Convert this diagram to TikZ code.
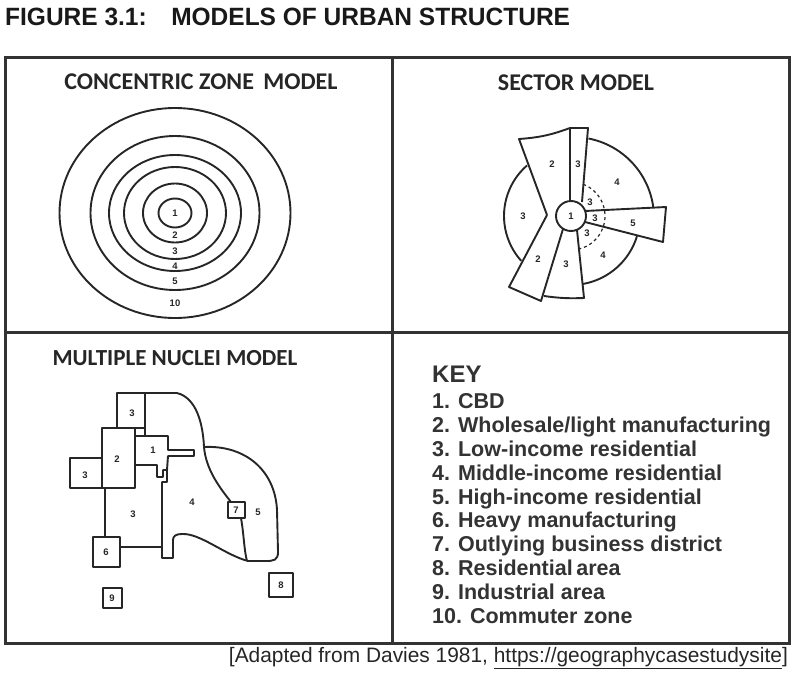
\documentclass[tikz,border=0pt]{standalone}
\usepackage{fontspec}
\setmainfont{Liberation Sans}
\newfontfamily\headfont{Carlito}
\begin{document}
\begin{tikzpicture}[x=1pt,y=-1pt,
  frame/.style={line width=3pt, black!80},
  zone/.style={line width=1.9pt, black!85, line join=round},
  num/.style={font=\bfseries\fontsize{9.5}{9.5}\selectfont, inner sep=0pt, black!85},
  heading/.style={font=\headfont\bfseries\fontsize{24}{24}\selectfont, black!85},
  keyline/.style={font=\bfseries\fontsize{21.5}{21.5}\selectfont, anchor=base west, inner sep=0pt, black!80}]
\useasboundingbox (0,0) rectangle (799,677);
% Title
\node[anchor=west, inner sep=0pt, font=\bfseries\fontsize{25}{25}\selectfont, black!90] (title) at (5,17)
  {\scalebox{0.98}[1]{FIGURE 3.1:\hspace{1em}MODELS OF URBAN STRUCTURE}};
% Frame and panels
\draw[frame] (5,57) rectangle (789,643);
\draw[frame] (392,57) -- (392,643);
\draw[frame] (5,332) -- (789,332);
% Headings
\node[heading] (hconc) at (201,82) {CONCENTRIC ZONE\, MODEL};
\node[heading] (hsect) at (576,83) {SECTOR MODEL};
\node[heading, font=\headfont\bfseries\fontsize{23}{23}\selectfont] (hnucl) at (175,358) {MULTIPLE NUCLEI MODEL};
% Concentric zone model
\foreach \rx/\ry in {115.5/105, 84.5/77, 66/58, 51/46, 32/29.5, 16.5/14.5}
  \draw[zone] (175,213) ellipse [x radius=\rx, y radius=\ry];
\node[num] (c1) at (175,213) {1};
\node[num] (c2) at (175,235) {2};
\node[num] (c3) at (175,251) {3};
\node[num] (c4) at (175,266) {4};
\node[num] (c5) at (175,281) {5};
\node[num] (c10) at (175,303) {10};
% Sector model
\coordinate (cbd) at (571,216);
\draw[zone] (cbd) circle (15);
\draw[zone] (547,215) -- (519,139) to[bend right=8] (570,128) -- (570,201);
\draw[zone] (570,128) -- (588,128) -- (582,202);
\draw[zone] (547,215) -- (509,287) -- (541,301) -- (563,229);
\draw[zone] (544,296) to[bend right=5] (584,298) -- (577,230);
\draw[zone] (585,211) -- (666,207) -- (663,242) -- (585,222);
\draw[zone] (cbd) ++(-131:67) arc[start angle=-131, end angle=-222, radius=67];
\draw[zone] (573,218) ++(-79:81) arc[start angle=-79, end angle=-7.5, radius=81];
\draw[zone] (cbd) ++(17:69) arc[start angle=17, end angle=80, radius=69];
\draw[zone, line width=1.2pt, dashed] (cbd) ++(-69:34) arc[start angle=-69, end angle=76, radius=34];
\node[num] (s1) at (571,216) {1};
\node[num] (s2a) at (552,164) {2};
\node[num] (s3a) at (578,164) {3};
\node[num] (s4a) at (617,182) {4};
\node[num] (s3b) at (523,216) {3};
\node[num] (s3c) at (590,202) {3};
\node[num] (s3d) at (595,218) {3};
\node[num] (s3e) at (587,233) {3};
\node[num] (s5) at (633,223) {5};
\node[num] (s4b) at (603,255) {4};
\node[num] (s2b) at (538,259) {2};
\node[num] (s3f) at (566,264) {3};
% Multiple nuclei model
\draw[zone] (117,393) rectangle (145,428);
\draw[zone] (102,428) rectangle (135,488);
\draw[zone] (70,458) rectangle (102,488);
\draw[zone] (145,393) -- (145,436);
\draw[zone] (135,436) -- (168,436) -- (168,450) -- (194,450) -- (194,456) -- (168,456)
  -- (167,470) -- (163,470) -- (163,477) -- (157,477) -- (157,465) -- (135,465);
\draw[zone] (145,393) -- (177,393) .. controls (197,398) and (203,425) .. (204,447)
  .. controls (206,470) and (220,488) .. (231,502);
\draw[zone] (241,518) .. controls (244,535) and (244,550) .. (247,561);
\draw[zone] (266,561) -- (248,561) .. controls (225,555) and (200,533) .. (182,534)
  .. controls (176,534) and (173,536) .. (173,540) -- (173,558) -- (162,558)
  -- (162,482) -- (167,482) -- (167,470);
\draw[zone] (204,447) .. controls (245,445) and (275,470) .. (277,510) -- (278,552)
  .. controls (278,560) and (274,561) .. (266,561);
\draw[zone] (105,488) -- (105,537);
\draw[zone] (120,547) -- (162,547);
\draw[zone] (228,502) rectangle (245,518);
\draw[zone] (93,537) rectangle (120,567);
\draw[zone] (103,588) rectangle (122,608);
\draw[zone] (269,573) rectangle (293,597);
\node[num] (n3a) at (132,413) {3};
\node[num] (n2) at (117,459) {2};
\node[num] (n3b) at (85,475) {3};
\node[num] (n1) at (153,450) {1};
\node[num] (n3c) at (133,514) {3};
\node[num] (n4) at (192,502) {4};
\node[num] (n7) at (236,510) {7};
\node[num] (n5) at (258,512) {5};
\node[num] (n6) at (106,552) {6};
\node[num] (n9) at (112,598) {9};
\node[num] (n8) at (281,585) {8};
% Key
\node[keyline, font=\bfseries\fontsize{24}{24}\selectfont] (key) at (432,382) {KEY};
\foreach \txt [count=\i] in {CBD, Wholesale/light manufacturing, Low-income residential,
  Middle-income residential, High-income residential, Heavy manufacturing,
  Outlying business district, Residential\,area, Industrial area, Commuter zone}
  \node[keyline] (k\i) at (432,{384.5+23.9*\i}) {\i. \txt};
% Source line
\node[anchor=base east, inner sep=0pt, font=\fontsize{20.9}{20.9}\selectfont, black!85] (src) at (788,662)
  {[Adapted from Davies 1981, \underline{https://geographycasestudysite}]};
\end{tikzpicture}
\end{document}
